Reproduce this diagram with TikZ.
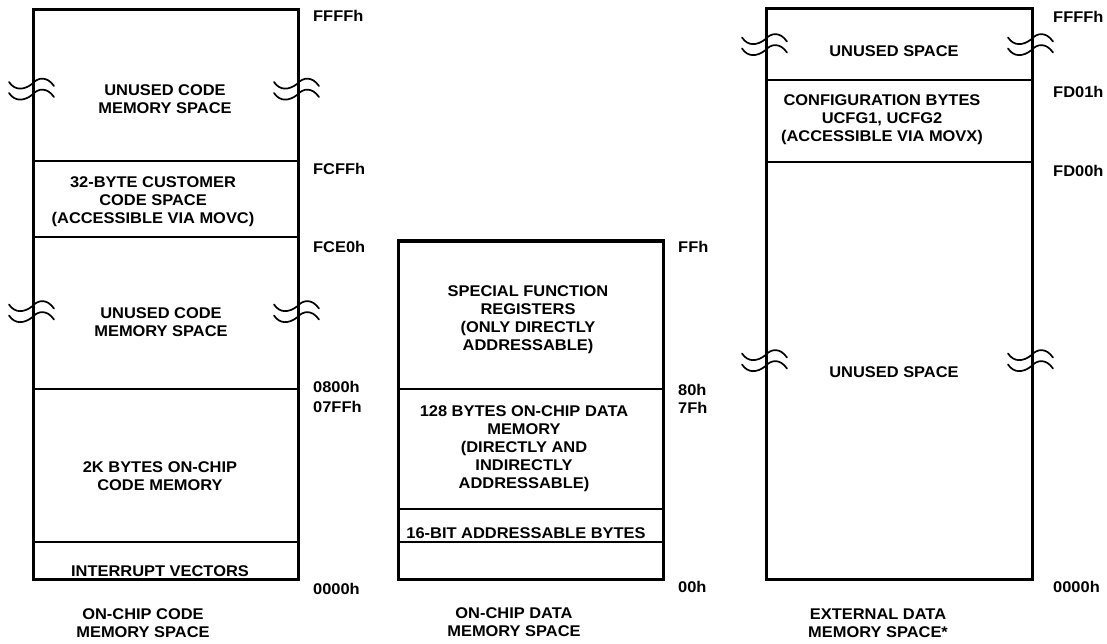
\documentclass[tikz,border=0pt]{standalone}
\usepackage{fontspec}
\setmainfont{Liberation Sans}[FakeStretch=1.06]
\usetikzlibrary{positioning}

\begin{document}
\begin{tikzpicture}[
  x=1pt, y=-1pt,
  font=\fontsize{15.5}{18}\selectfont\bfseries,
  frame/.style  ={line width=3pt},
  divider/.style={line width=2pt},
  txt/.style    ={align=center, inner sep=0pt},
  addr/.style   ={anchor=west, inner sep=0pt},
  brk/.style    ={line width=1.7pt, line cap=round},
  breakmark/.pic={
    \foreach \d in {-5.5,5.5}
      \draw[brk] (-24,\d-2) .. controls (-18,\d+7) and (-9,\d+6) .. (-1,\d)
                            .. controls (5,\d-7) and (14,\d-8) .. (21,\d+2);
  },
]
\fill[white] (0,0) rectangle (1107,644);
\useasboundingbox (0,0) rectangle (1107,644);

% on-chip code memory
\draw[frame] (33,10) rectangle (298,579);
\foreach \y in {161,237,389,542}
  \draw[divider] (33,\y) -- (298,\y);
\pic at (33,89.5)  {breakmark};
\pic at (298,89.5) {breakmark};
\pic at (33,312)   {breakmark};
\pic at (298,312)  {breakmark};
\node[txt] (cunused)  at (165,99)  {UNUSED CODE\\MEMORY SPACE};
\node[txt] (ccust)    at (153,202) {32-BYTE CUSTOMER\\CODE SPACE\\(ACCESSIBLE VIA MOVC)};
\node[txt] (cunused2) at (161,322) {UNUSED CODE\\MEMORY SPACE};
\node[txt] (conchip)  at (160,476) {2K BYTES ON-CHIP\\CODE MEMORY};
\node[txt] (cvect)    at (160,571) {INTERRUPT VECTORS};
\node[txt] (ctitle)   at (143,623) {ON-CHIP CODE\\MEMORY SPACE};
\foreach \y/\t in {16/FFFFh, 169/FCFFh, 247/FCE0h, 387/0800h, 407/07FFh, 589/0000h}
  \node[addr] (c-\t) at (313,\y) {\t};

% on-chip data memory
\draw[frame] (398,241) rectangle (663,579);
\foreach \y in {389,509,542}
  \draw[divider] (398,\y) -- (663,\y);
\node[txt] (dsfr)   at (528,320) {SPECIAL FUNCTION\\REGISTERS\\(ONLY DIRECTLY\\ADDRESSABLE)};
\node[txt] (dram)   at (524,449) {128 BYTES ON-CHIP DATA\\MEMORY\\(DIRECTLY AND\\INDIRECTLY\\ADDRESSABLE)};
\node[txt] (dbit)   at (526,533) {16-BIT ADDRESSABLE BYTES};
\node[txt] (dtitle) at (514,622) {ON-CHIP DATA\\MEMORY SPACE};
\foreach \y/\t in {247/FFh, 390/80h, 408/7Fh, 587/00h}
  \node[addr] (d-\t) at (678,\y) {\t};

% external data memory
\draw[frame] (766,9) rectangle (1032,579);
\foreach \y in {80,162}
  \draw[divider] (766,\y) -- (1032,\y);
\pic at (766,45)   {breakmark};
\pic at (1032,45)  {breakmark};
\pic at (766,361)  {breakmark};
\pic at (1032,361) {breakmark};
\node[txt] (xunused)  at (894,51)  {UNUSED SPACE};
\node[txt] (xcfg)     at (882,120) {CONFIGURATION BYTES\\UCFG1, UCFG2\\(ACCESSIBLE VIA MOVX)};
\node[txt] (xunused2) at (894,372) {UNUSED SPACE};
\node[txt] (xtitle)   at (878,623) {EXTERNAL DATA\\MEMORY SPACE*};
\foreach \y/\t in {17/FFFFh, 92/FD01h, 171/FD00h, 587/0000h}
  \node[addr] (x-\t) at (1053,\y) {\t};
\end{tikzpicture}
\end{document}
